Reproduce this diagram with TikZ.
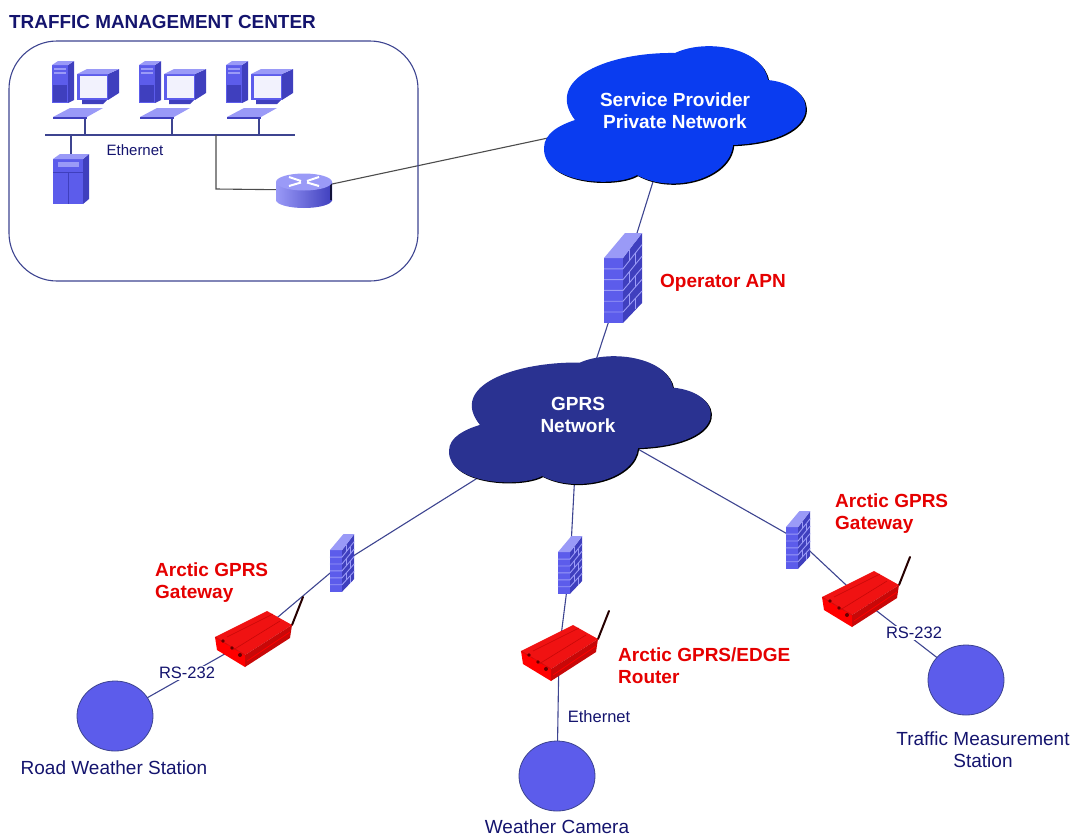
\documentclass[tikz,border=0pt]{standalone}
\usepackage{fontspec}
\setmainfont{Liberation Sans}
\usetikzlibrary{backgrounds}
\definecolor{iconblue}{HTML}{5C5CEB}
\definecolor{iconlight}{HTML}{9A9AF7}
\definecolor{icondark}{HTML}{3F3FBE}
\definecolor{linkblue}{HTML}{3D4490}
\definecolor{textblue}{HTML}{14146E}
\definecolor{gwred}{HTML}{F01212}
\definecolor{gwdark}{HTML}{C80808}
\definecolor{providerblue}{HTML}{0A3CF0}
\definecolor{gprsblue}{HTML}{2A3291}
\tikzset{
  link/.style={draw=linkblue,line width=1.1pt},
  blacklink/.style={draw=black!70,line width=1.1pt},
  redlabel/.style={text=red!90!black,font=\fontsize{19}{22}\selectfont\bfseries,align=left,inner sep=0pt},
  bluelabel/.style={text=textblue,font=\fontsize{16.5}{18}\selectfont,inner sep=1.5pt},
  stationlabel/.style={text=textblue,font=\fontsize{19}{22}\selectfont,align=center,inner sep=0pt},
  cloudlabel/.style={text=white,font=\fontsize{19}{22}\selectfont\bfseries,align=center,inner sep=0pt},
  pics/cloudicon/.style={code={
    \def\cloudpath{(-100,2) .. controls (-132,-40) and (-65,-66) .. (0,-65)
      .. controls (32,-80) and (88,-70) .. (93,-38)
      .. controls (145,-33) and (152,23) .. (58,27)
      .. controls (55,60) and (-2,77) .. (-38,57)
      .. controls (-60,70) and (-132,66) .. (-131,30)
      .. controls (-131,15) and (-115,7) .. (-100,2) -- cycle}
    \fill[black,shift={(1.2,1.2)}] \cloudpath;
    \fill[#1] \cloudpath;
  }},
  pics/pcicon/.style={code={
    % tower
    \fill[iconblue] (-33,-70) rectangle (-17,-32);
    \fill[icondark] (-17,-70) -- (-11,-74) -- (-11,-35) -- (-17,-32) -- cycle;
    \fill[iconlight] (-33,-70) -- (-27,-74) -- (-11,-74) -- (-17,-70) -- cycle;
    \fill[iconlight] (-31,-67) rectangle (-19,-65);
    \fill[iconlight] (-31,-63) rectangle (-19,-61);
    \fill[icondark] (-32,-50) rectangle (-18,-33);
    % monitor
    \fill[iconblue] (-8,-61) -- (23,-61) -- (23,-35) -- (-8,-35) -- cycle;
    \fill[icondark] (23,-61) -- (34,-66) -- (34,-42) -- (23,-35) -- cycle;
    \fill[iconlight] (-8,-61) -- (2,-66) -- (34,-66) -- (23,-61) -- cycle;
    \fill[white!92!iconblue] (-5,-59) rectangle (22,-37);
    \fill[icondark] (-3,-35) -- (22,-35) -- (18,-31) -- (-3,-31) -- cycle;
    % keyboard
    \fill[iconlight] (-32,-18) -- (-15,-27) -- (18,-27) -- (2,-18) -- cycle;
    \fill[icondark] (-32,-18) rectangle (2,-16.5);
  }},
  pics/servericon/.style={code={
    \fill[iconblue] (-18,-20) rectangle (12,25);
    \fill[icondark] (12,-20) -- (18,-25) -- (18,20) -- (12,25) -- cycle;
    \fill[iconlight] (-18,-20) -- (-11,-25) -- (18,-25) -- (12,-20) -- cycle;
    \fill[iconlight] (-13,-17) rectangle (8,-12);
    \draw[icondark,line width=0.5pt] (-18,-7) -- (12,-7) (-3,-7) -- (-3,25);
  }},
  pics/routericon/.style={code={
    \shade[left color=iconlight,right color=icondark] (-28,-8) rectangle (28,10);
    \shade[left color=iconlight,right color=icondark] (0,10) ellipse (28 and 8);
    \fill[black!70!icondark] (25.5,-6) rectangle (28,10);
    \fill[iconlight] (0,-8) ellipse (28 and 8.5);
    \draw[white,line width=2pt] (-15,-13) -- (-3,-9) (15,-13) -- (3,-9) (-15,-4) -- (-3,-7.5) (15,-4) -- (3,-7.5);
  }},
  pics/firewallicon/.style={code={
    \fill[iconblue] (-19,-20) rectangle (0,45);
    \fill[icondark] (0,-20) -- (19,-45) -- (19,25) -- (0,45) -- cycle;
    \fill[iconlight] (-19,-20) -- (2,-45) -- (19,-45) -- (0,-20) -- cycle;
    \foreach \row in {1,...,5}{
      \draw[iconlight,line width=0.9pt] (-19,{-20+\row*10.8}) -- (0,{-20+\row*10.8}) -- (19,{-45+\row*11.6});
    }
    \foreach \row in {0,2,4}{
      \draw[iconlight,line width=0.9pt] (6.3,{-28.3+\row*11.07}) -- (6.3,{-17.2+\row*11.07});
    }
    \foreach \row in {1,3,5}{
      \draw[iconlight,line width=0.9pt] (12.7,{-36.6+\row*11.33}) -- (12.7,{-25.3+\row*11.33});
    }
  }},
  pics/gatewayicon/.style={code={
    \draw[black!85!red,line width=2pt,line cap=round] (39,-13) -- (50,-41);
    \fill[gwred] (-38,-1) -- (14,-27) -- (39,-13) -- (-8,17) -- cycle;
    \fill[gwdark] (-8,17) -- (39,-13) -- (37,0) -- (-8,29) -- cycle;
    \fill[red] (-38,-1) -- (-8,17) -- (-8,29) -- (-36,12) -- cycle;
    \draw[gwdark,line width=0.6pt] (-26,-1) -- (20,-24) (-8,17) -- (-38,-1) (-20,12) -- (27,-17);
    \fill[red!40!black] (-30,3) circle (1.8) (-21,10) circle (1.8) (-13,17) circle (2);
    \draw[red,line width=0.8pt] (-6,23) -- (37,-6);
  }},
}
\begin{document}
\begin{tikzpicture}[x=1pt,y=-1pt]
\useasboundingbox (0,0) rectangle (1073,836);

% management center
\node[anchor=west,inner sep=0pt,text=textblue,font=\fontsize{18.9}{20}\selectfont\bfseries] (titlelabel) at (9,22) {TRAFFIC MANAGEMENT CENTER};
\draw[linkblue,line width=1.1pt,rounded corners=48pt] (9,41) rectangle (418,281);

\coordinate (busl) at (45,135);
\coordinate (busr) at (295,135);
\coordinate (buscorner) at (216,189);
\coordinate (pca) at (85,135);
\coordinate (pcb) at (172,135);
\coordinate (pcc) at (259,135);
\coordinate (pckeya) at (85,118);
\coordinate (pckeyb) at (172,118);
\coordinate (pckeyc) at (259,118);
\coordinate (server) at (71,179);
\coordinate (router) at (304,190);

\pic at (pca) {pcicon};
\pic at (pcb) {pcicon};
\pic at (pcc) {pcicon};
\pic at (server) {servericon};
\pic at (router) {routericon};
\node[bluelabel,font=\fontsize{15}{17}\selectfont] (etherlabel) at (135,150) {Ethernet};

% clouds
\pic at (675,118) {cloudicon=providerblue};
\pic[yscale=.93] at (580,423) {cloudicon=gprsblue};
\node[cloudlabel] (provider) at (675,111) {Service Provider\\Private Network};
\node[cloudlabel] (gprs) at (578,415) {GPRS\\Network};

% firewalls
\coordinate (fwapn) at (623,278);
\coordinate (fwleft) at (342,563);
\coordinate (fwmid) at (570,565);
\coordinate (fwright) at (798,540);
\pic at (fwapn) {firewallicon};
\pic[scale=.64] at (fwleft) {firewallicon};
\pic[scale=.64] at (fwmid) {firewallicon};
\pic[scale=.64] at (fwright) {firewallicon};

% gateways
\coordinate (gwleft) at (253,638);
\coordinate (gwmid) at (559,652);
\coordinate (gwright) at (860,598);
\pic at (gwleft) {gatewayicon};
\pic at (gwmid) {gatewayicon};
\pic at (gwright) {gatewayicon};

% stations
\coordinate (stleft) at (115,716);
\coordinate (stmid) at (557,776);
\coordinate (stright) at (966,680);
\fill[iconblue,draw=linkblue,line width=0.8pt] (stleft) ellipse (38 and 35);
\fill[iconblue,draw=linkblue,line width=0.8pt] (stmid) ellipse (38 and 35);
\fill[iconblue,draw=linkblue,line width=0.8pt] (stright) ellipse (38 and 35);

% labels
\node[redlabel,anchor=west] (apnlabel) at (660,283) {Operator APN};
\node[redlabel,anchor=west] (gwlabela) at (155,582.5) {Arctic GPRS\\Gateway};
\node[redlabel,anchor=west] (gwlabelb) at (618,666) {Arctic GPRS/EDGE\\Router};
\node[redlabel,anchor=west] (gwlabelc) at (835,514) {Arctic GPRS\\Gateway};
\node[bluelabel,fill=white] (rsleft) at (187,673) {RS-232};
\node[bluelabel,fill=white] (rsright) at (914,633) {RS-232};
\node[bluelabel] (ethermid) at (599,717) {Ethernet};
\node[stationlabel] (roadlabel) at (114,768) {Road Weather Station};
\node[stationlabel] (cameralabel) at (557,827) {Weather Camera};
\node[stationlabel] (trafficlabel) at (983,750) {Traffic Measurement\\Station};

% connectors
\begin{scope}[on background layer]
\draw[link] (busl) -- (busr);
\draw[link] (pckeya) -- (pca);
\draw[link] (pckeyb) -- (pcb);
\draw[link] (pckeyc) -- (pcc);
\draw[link] (server) -- (server |- busl);
\draw[blacklink] (buscorner |- busl) -- (buscorner) -- (router);
\draw[blacklink] (router) -- (provider);
\draw[link] (provider) -- (fwapn);
\draw[link] (fwapn) -- (gprs);
\draw[link] (gprs) -- (fwleft);
\draw[link] (gprs) -- (fwmid);
\draw[link] (gprs) -- (fwright);
\draw[link] (fwleft) -- (gwleft);
\draw[link] (fwmid) -- (gwmid);
\draw[link] (fwright) -- (gwright);
\draw[link] (gwleft) -- (stleft);
\draw[link] (gwmid) -- (stmid);
\draw[link] (gwright) -- (stright);
\end{scope}
\end{tikzpicture}
\end{document}
